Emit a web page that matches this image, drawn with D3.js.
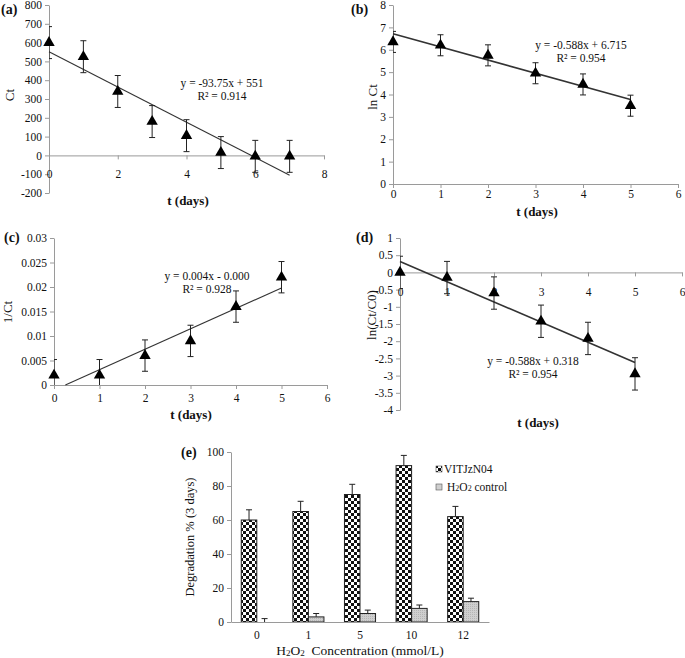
<!DOCTYPE html>
<html>
<head>
<meta charset="utf-8">
<script src="https://cdn.jsdelivr.net/npm/d3@7"></script>
<style>
  body { margin: 0; background: #fff; }
  svg text { font-family: "Liberation Serif", "Times New Roman", serif; fill: #111; }
  .axis path, .axis line { stroke: #9a9a9a; }
</style>
</head>
<body>
<script>
// ---- data ----
// (a) Ct vs t
var tA = [0, 1, 2, 3, 4, 5, 6, 7];
var ctA = [600, 525, 340, 180, 105, 15, -5, -5];
var errA = [85, 85, 85, 85, 85, 85, 85, 85];
var ticksAx = [0, 2, 4, 6, 8];
var ticksAy = [-200, -100, 0, 100, 200, 300, 400, 500, 600, 700, 800];

// (b) ln Ct vs t
var tB = [0, 1, 2, 3, 4, 5];
var lnCtB = [6.35, 6.2, 5.75, 4.95, 4.45, 3.5];
var errB = [0.47, 0.47, 0.47, 0.47, 0.47, 0.47];
var ticksBx = [0, 1, 2, 3, 4, 5, 6];
var ticksBy = [0, 1, 2, 3, 4, 5, 6, 7, 8];

// (c) 1/Ct vs t
var tC = [0, 1, 2, 3, 4, 5];
var invCtC = [0.002, 0.002, 0.006, 0.009, 0.016, 0.022];
var errC = [0.0032, 0.0032, 0.0032, 0.0032, 0.0032, 0.0032];
var ticksCx = [0, 1, 2, 3, 4, 5, 6];
var ticksCy = [0, 0.005, 0.01, 0.015, 0.02, 0.025, 0.03];

// (d) ln(Ct/C0) vs t
var tD = [0, 1, 2, 3, 4, 5];
var lnRatioD = [0, -0.15, -0.6, -1.42, -1.92, -2.95];
var errD = [0.47, 0.47, 0.47, 0.47, 0.47, 0.47];
var ticksDx = [0, 1, 2, 3, 4, 5, 6];
var ticksDy = [-4, -3.5, -3, -2.5, -2, -1.5, -1, -0.5, 0, 0.5, 1];

// trend lines: slope, intercept, x from, x to
var fitA = [-93.75, 551, 0, 7];
var fitB = [-0.588, 6.715, 0, 5];
var fitC = [0.00417, -0.00104, 0.25, 5];
var fitD = [-0.588, 0.318, 0, 5];

// (e) degradation bars
var concLabels = ["0", "1", "5", "10", "12"];
var vitValues = [60, 65, 75, 92, 62];
var vitErr = [6, 6, 6, 6, 6];
var ctrlValues = [0, 3, 5, 8, 12];
var ctrlErr = [2, 2, 2, 2, 2];
var ticksEy = [0, 20, 40, 60, 80, 100];

const width = 685;
const height = 658;
const serif = "'Liberation Serif', 'Times New Roman', serif";

const svg = d3.select("body").append("svg")
  .attr("width", width)
  .attr("height", height);

// checker pattern for VITJzN04 bars
var defs = svg.append("defs");
var pat = defs.append("pattern")
  .attr("id", "checker")
  .attr("patternUnits", "userSpaceOnUse")
  .attr("width", 6).attr("height", 6);
pat.append("rect").attr("width", 6).attr("height", 6).attr("fill", "#111");
pat.append("rect").attr("x", 3).attr("y", 0).attr("width", 3).attr("height", 3).attr("fill", "#fff");
pat.append("rect").attr("x", 0).attr("y", 3).attr("width", 3).attr("height", 3).attr("fill", "#fff");

var pat2 = defs.append("pattern")
  .attr("id", "dots")
  .attr("patternUnits", "userSpaceOnUse")
  .attr("width", 2).attr("height", 2);
pat2.append("rect").attr("width", 2).attr("height", 2).attr("fill", "#cfcfcf");
pat2.append("rect").attr("width", 1).attr("height", 1).attr("fill", "#b5b5b5");

function styleAxis(sel) {
  sel.attr("font-family", serif).attr("font-size", 11.5);
  sel.selectAll("text").attr("fill", "#1a1a1a");
}

function scatterPanel(cfg) {
  var x = d3.scaleLinear().domain(cfg.xDomain).range(cfg.xRange);
  var y = d3.scaleLinear().domain(cfg.yDomain).range(cfg.yRange);
  var g = svg.append("g");

  defs.append("clipPath").attr("id", cfg.id + "-clip")
    .append("rect")
    .attr("x", cfg.xRange[0]).attr("y", cfg.yRange[1])
    .attr("width", cfg.xRange[1] - cfg.xRange[0])
    .attr("height", cfg.yRange[0] - cfg.yRange[1]);

  g.append("g").attr("class", "axis")
    .attr("transform", "translate(" + cfg.xRange[0] + ",0)")
    .call(d3.axisLeft(y).tickValues(cfg.yTicks).tickSize(4).tickSizeOuter(0).tickPadding(3)
      .tickFormat(function(d) { return String(d); }))
    .call(styleAxis);

  g.append("g").attr("class", "axis")
    .attr("transform", "translate(0," + y(0) + ")")
    .call(d3.axisBottom(x).tickValues(cfg.xTicks).tickSize(4).tickSizeOuter(0).tickPadding(cfg.xPad)
      .tickFormat(function(d) { return String(d); }))
    .call(styleAxis);

  var pts = cfg.xs.map(function(t, i) { return {t: t, v: cfg.ys[i], e: cfg.err[i]}; });

  // trend line
  var f = cfg.fit;
  g.append("line")
    .attr("x1", x(f[2])).attr("y1", y(f[0] * f[2] + f[1]))
    .attr("x2", x(f[3])).attr("y2", y(f[0] * f[3] + f[1]))
    .attr("stroke", "#333").attr("stroke-width", cfg.lw);

  // error bars
  var eb = g.append("g").attr("clip-path", "url(#" + cfg.id + "-clip)")
    .selectAll("g").data(pts).enter().append("g")
    .attr("stroke", "#222").attr("stroke-width", 1);
  eb.append("line")
    .attr("x1", function(d) { return x(d.t); }).attr("x2", function(d) { return x(d.t); })
    .attr("y1", function(d) { return y(d.v + d.e); }).attr("y2", function(d) { return y(d.v - d.e); });
  eb.append("line")
    .attr("x1", function(d) { return x(d.t) - 3; }).attr("x2", function(d) { return x(d.t) + 3; })
    .attr("y1", function(d) { return y(d.v + d.e); }).attr("y2", function(d) { return y(d.v + d.e); });
  eb.append("line")
    .attr("x1", function(d) { return x(d.t) - 3; }).attr("x2", function(d) { return x(d.t) + 3; })
    .attr("y1", function(d) { return y(d.v - d.e); }).attr("y2", function(d) { return y(d.v - d.e); });

  // triangle markers
  g.selectAll(".pt").data(pts).enter().append("path")
    .attr("class", "pt")
    .attr("d", d3.symbol(d3.symbolTriangle).size(56))
    .attr("transform", function(d) { return "translate(" + x(d.t) + "," + y(d.v) + ")"; })
    .attr("fill", "#000");

  // panel letter
  g.append("text").attr("x", cfg.letterPos[0]).attr("y", cfg.letterPos[1])
    .attr("font-size", 14).attr("font-weight", "bold").text(cfg.letter);

  // y title
  g.append("text")
    .attr("transform", "translate(" + cfg.yTitlePos[0] + "," + cfg.yTitlePos[1] + ") rotate(-90)")
    .attr("text-anchor", "middle").attr("font-size", 13).text(cfg.yTitle);

  // x title
  g.append("text").attr("x", cfg.xTitlePos[0]).attr("y", cfg.xTitlePos[1])
    .attr("text-anchor", "middle").attr("font-size", 13).attr("font-weight", "bold")
    .text("t (days)");

  // equation
  g.append("text").attr("x", cfg.eqPos[0]).attr("y", cfg.eqPos[1])
    .attr("text-anchor", "middle").attr("font-size", 11.5).text(cfg.eq);
  g.append("text").attr("x", cfg.eqPos[0]).attr("y", cfg.eqPos[1] + 13)
    .attr("text-anchor", "middle").attr("font-size", 11.5).text(cfg.r2);
}

scatterPanel({
  id: "a", xs: tA, ys: ctA, err: errA, fit: fitA, lw: 1.1,
  xDomain: [0, 8], xRange: [49, 324], yDomain: [-200, 800], yRange: [193, 5],
  xTicks: ticksAx, yTicks: ticksAy, xPad: 10,
  letter: "(a)", letterPos: [1, 14],
  yTitle: "Ct", yTitlePos: [14, 95],
  xTitlePos: [188, 205],
  eq: "y = -93.75x + 551", r2: "R² = 0.914", eqPos: [222, 87]
});

scatterPanel({
  id: "b", xs: tB, ys: lnCtB, err: errB, fit: fitB, lw: 1.6,
  xDomain: [0, 6], xRange: [393, 678], yDomain: [0, 8], yRange: [184, 5],
  xTicks: ticksBx, yTicks: ticksBy, xPad: 2,
  letter: "(b)", letterPos: [351, 14],
  yTitle: "ln Ct", yTitlePos: [377, 97],
  xTitlePos: [537, 216],
  eq: "y = -0.588x + 6.715", r2: "R² = 0.954", eqPos: [581, 49]
});

scatterPanel({
  id: "c", xs: tC, ys: invCtC, err: errC, fit: fitC, lw: 1.1,
  xDomain: [0, 6], xRange: [54, 327], yDomain: [0, 0.03], yRange: [385, 238],
  xTicks: ticksCx, yTicks: ticksCy, xPad: 5,
  letter: "(c)", letterPos: [4, 242],
  yTitle: "1/Ct", yTitlePos: [12, 312],
  xTitlePos: [191, 419],
  eq: "y = 0.004x - 0.000", r2: "R² = 0.928", eqPos: [207, 280]
});

scatterPanel({
  id: "d", xs: tD, ys: lnRatioD, err: errD, fit: fitD, lw: 1.6,
  xDomain: [0, 6], xRange: [400, 682], yDomain: [-4, 1], yRange: [410, 238],
  xTicks: ticksDx, yTicks: ticksDy, xPad: 11,
  letter: "(d)", letterPos: [356, 242],
  yTitle: "ln(Ct/C0)", yTitlePos: [376, 315],
  xTitlePos: [538, 427],
  eq: "y = -0.588x + 0.318", r2: "R² = 0.954", eqPos: [533, 365]
});

// ---- (e) bar chart ----
var gE = svg.append("g");
var x0 = d3.scaleBand().domain(concLabels).range([231, 489]);
var x1 = d3.scaleBand().domain(["vit", "ctrl"]).range([0, x0.bandwidth()]).paddingOuter(0.66);
var yE = d3.scaleLinear().domain([0, 100]).range([622, 452]);

var groups = concLabels.map(function(c, i) {
  return [
    {c: c, k: "vit", v: vitValues[i], e: vitErr[i]},
    {c: c, k: "ctrl", v: ctrlValues[i], e: ctrlErr[i]}
  ];
});
var bars = [].concat.apply([], groups);

gE.append("g").attr("class", "axis")
  .attr("transform", "translate(231,0)")
  .call(d3.axisLeft(yE).tickValues(ticksEy).tickSize(4).tickSizeOuter(0).tickPadding(3))
  .call(styleAxis);

// error bars (upper half)
var ebE = gE.selectAll(".eb").data(bars).enter().append("g")
  .attr("stroke", "#222").attr("stroke-width", 1);
ebE.append("line")
  .attr("x1", function(d) { return x0(d.c) + x1(d.k) + x1.bandwidth() / 2; })
  .attr("x2", function(d) { return x0(d.c) + x1(d.k) + x1.bandwidth() / 2; })
  .attr("y1", function(d) { return yE(d.v); })
  .attr("y2", function(d) { return yE(d.v + d.e); });
ebE.append("line")
  .attr("x1", function(d) { return x0(d.c) + x1(d.k) + x1.bandwidth() / 2 - 3; })
  .attr("x2", function(d) { return x0(d.c) + x1(d.k) + x1.bandwidth() / 2 + 3; })
  .attr("y1", function(d) { return yE(d.v + d.e); })
  .attr("y2", function(d) { return yE(d.v + d.e); });

gE.selectAll(".bar").data(bars).enter().append("rect")
  .attr("class", "bar")
  .attr("x", function(d) { return x0(d.c) + x1(d.k); })
  .attr("y", function(d) { return yE(d.v); })
  .attr("width", x1.bandwidth())
  .attr("height", function(d) { return yE(0) - yE(d.v); })
  .attr("fill", function(d) { return d.k === "vit" ? "url(#checker)" : "url(#dots)"; })
  .attr("stroke", "#222").attr("stroke-width", 1);

gE.append("g").attr("class", "axis")
  .attr("transform", "translate(0," + yE(0) + ")")
  .call(d3.axisBottom(x0).tickSize(0).tickSizeOuter(0).tickPadding(9))
  .call(styleAxis);

gE.append("text").attr("x", 181).attr("y", 457)
  .attr("font-size", 14).attr("font-weight", "bold").text("(e)");

gE.append("text")
  .attr("transform", "translate(194,537) rotate(-90)")
  .attr("text-anchor", "middle").attr("font-size", 12.5)
  .text("Degradation % (3 days)");

var xt = gE.append("text").attr("x", 360).attr("y", 655)
  .attr("text-anchor", "middle").attr("font-size", 13.5);
xt.append("tspan").text("H");
xt.append("tspan").attr("font-size", 9).attr("dy", 1).text("2");
xt.append("tspan").attr("dy", -1).text("O");
xt.append("tspan").attr("font-size", 9).attr("dy", 1).text("2");
xt.append("tspan").attr("dy", -1).text("\u00a0 Concentration (mmol/L)");

// legend
var legend = gE.append("g");
legend.append("rect").attr("x", 436).attr("y", 466).attr("width", 6).attr("height", 6)
  .attr("fill", "url(#checker)").attr("stroke", "#555").attr("stroke-width", 0.6);
legend.append("text").attr("x", 444).attr("y", 473).attr("font-size", 11.5).text("VITJzN04");
legend.append("rect").attr("x", 436).attr("y", 484).attr("width", 6).attr("height", 6)
  .attr("fill", "#cfcfcf").attr("stroke", "#555").attr("stroke-width", 0.6);
var lt = legend.append("text").attr("x", 447).attr("y", 491).attr("font-size", 11.5);
lt.append("tspan").text("H");
lt.append("tspan").attr("font-size", 8).text("2");
lt.append("tspan").text("O");
lt.append("tspan").attr("font-size", 8).text("2");
lt.append("tspan").text(" control");
</script>
</body>
</html>
